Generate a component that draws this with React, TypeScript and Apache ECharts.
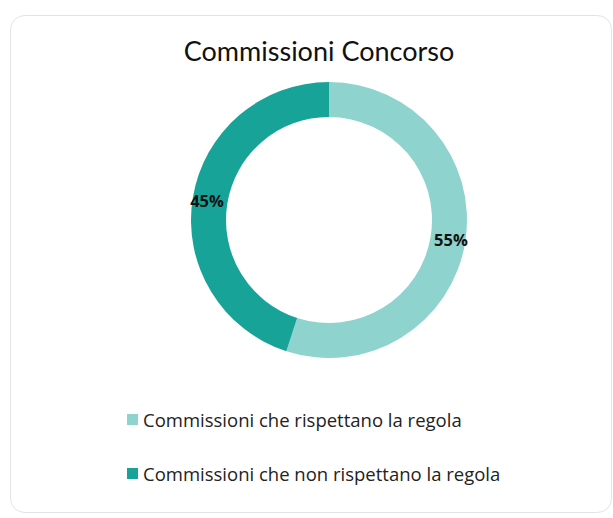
import React, { useEffect, useRef } from "react";
import * as echarts from "echarts";

const title = "Commissioni Concorso";
const categories = [
  "Commissioni che rispettano la regola",
  "Commissioni che non rispettano la regola",
];
const values = [55, 45];
const colors = ["#8ED3CE", "#18A398"];

export default function App() {
  const ref = useRef<HTMLDivElement>(null);
  useEffect(() => {
    if (!ref.current) return;
    const chart = echarts.init(ref.current, null, { renderer: "svg" });
    const titleFont = "Lato, 'Open Sans', sans-serif";
    const font = "'Open Sans', Lato, sans-serif";
    chart.setOption({
      animation: false,
      backgroundColor: "#ffffff",
      title: {
        text: title,
        left: 314,
        top: 32,
        textAlign: "center",
        textStyle: { fontFamily: titleFont, fontSize: 27, fontWeight: "normal", color: "#111" },
      },
      graphic: [
        {
          type: "rect",
          shape: { x: 10.5, y: 15.5, width: 601, height: 497, r: 14 },
          style: { fill: "none", stroke: "#e3e3e3", lineWidth: 1 },
          z: -1,
        },
      ],
      legend: {
        orient: "vertical",
        left: 127,
        top: 410,
        padding: 0,
        icon: "rect",
        itemWidth: 11,
        itemHeight: 11,
        itemGap: 35,
        textStyle: { fontFamily: font, fontSize: 18.5, color: "#222", lineHeight: 17 },
        data: categories,
      },
      series: [
        {
          type: "pie",
          center: [329, 220],
          radius: [103, 138],
          startAngle: 90,
          clockwise: true,
          label: {
            show: true,
            position: "inside",
            formatter: "{c}%",
            fontFamily: font,
            fontSize: 16.5,
            fontWeight: "bold",
            color: "#111",
          },
          labelLine: { show: false },
          emphasis: { disabled: true },
          data: categories.map((name, i) => ({
            name,
            value: values[i],
            itemStyle: { color: colors[i] },
          })),
        },
      ],
    });
    return () => chart.dispose();
  }, []);
  return (
    <div
      ref={ref}
      style={{ position: "absolute", left: 0, top: 0, width: 613, height: 518 }}
    />
  );
}
